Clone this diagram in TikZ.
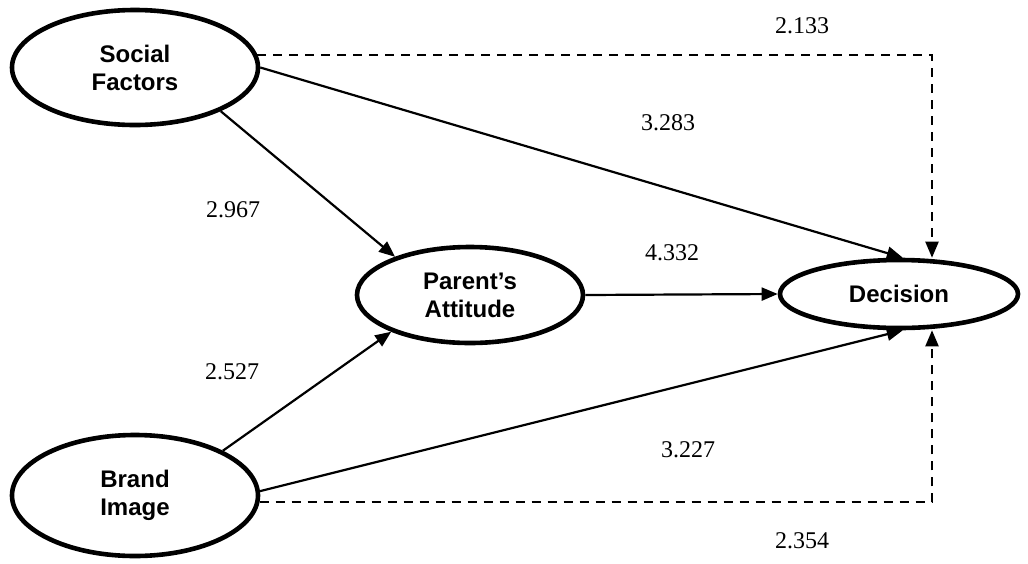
\documentclass[tikz,border=0pt]{standalone}
\usepackage{fontspec}
\setmainfont{Liberation Serif}
\setsansfont{Liberation Sans}
\usetikzlibrary{shapes.geometric,arrows.meta}
\tikzset{
  latent/.style={ellipse, draw, line width=2.3pt, inner sep=0pt, align=center,
    font=\sffamily\bfseries\fontsize{12}{14}\selectfont},
  path/.style={line width=1.1pt, -{Triangle[length=8pt,width=6.5pt]}},
  dpath/.style={path, dash pattern=on 4.5pt off 3.5pt},
  coef/.style={font=\fontsize{12}{14}\selectfont, inner sep=0pt}
}
\begin{document}
\begin{tikzpicture}[x=0.5pt,y=-0.5pt]
\useasboundingbox (0,0) rectangle (1028,563);
\node[latent, minimum width=123pt, minimum height=57.5pt] (sf) at (135,67.5) {Social\\Factors};
\node[latent, minimum width=123pt, minimum height=60.5pt] (bi) at (135,495.5) {Brand\\Image};
\node[latent, minimum width=113pt, minimum height=48pt] (pa) at (470,295) {Parent’s\\Attitude};
\node[latent, minimum width=119pt, minimum height=34pt] (dc) at (899,294) {Decision};
\coordinate (tc) at (932,0);

\draw[path] (sf.-27) -- (pa.153);
\draw[path] (bi.27) -- (pa.205);
\draw[path] (pa.east) -- (dc.west);
\draw[path] (sf.0) -- (dc.84);
\draw[path] (bi.2) -- (dc.-84);
\draw[dpath] (sf.6) -| (tc |- dc.north);
\draw[dpath] (bi.-3) -| (tc |- dc.south);

\node[coef] (l1) at (802,26) {2.133};
\node[coef] (l2) at (668,123) {3.283};
\node[coef] (l3) at (233,210) {2.967};
\node[coef] (l4) at (672,253) {4.332};
\node[coef] (l5) at (232,372) {2.527};
\node[coef] (l6) at (688,450) {3.227};
\node[coef] (l7) at (802,541) {2.354};
\end{tikzpicture}
\end{document}
